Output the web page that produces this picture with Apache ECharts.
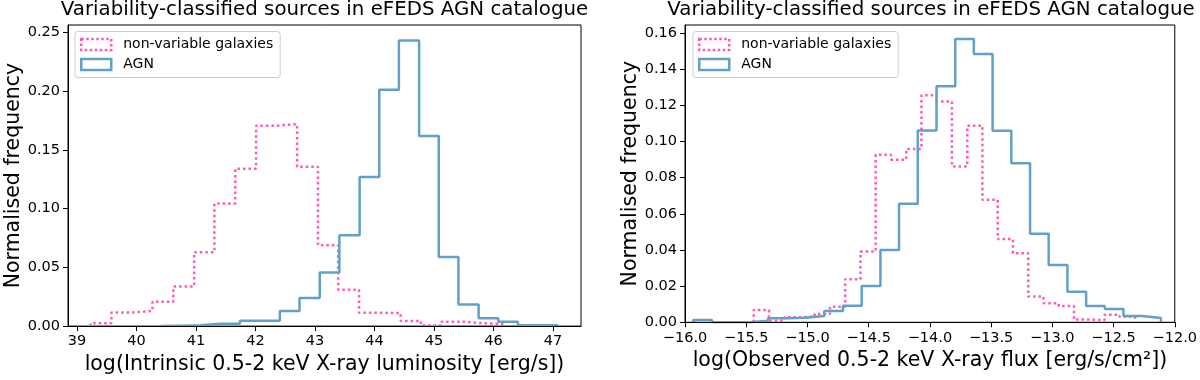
<!DOCTYPE html>
<html lang="en">
<head>
<meta charset="UTF-8" />
<title>Variability-classified sources in eFEDS AGN catalogue</title>
<script src="https://cdn.jsdelivr.net/npm/echarts@6.0.0/dist/echarts.min.js"></script>
<style>
  body { margin: 0; background: #fff; }
  #container { width: 1200px; height: 380px; }
</style>
</head>
<body>
<div id="container"></div>
<script>
// left panel: log intrinsic 0.5-2 keV luminosity, 20 bins per sample
const lumGalEdges = [39.23, 39.58, 39.92, 40.27, 40.62, 40.97, 41.31, 41.66, 42.01, 42.35, 42.70,
  43.05, 43.39, 43.74, 44.09, 44.44, 44.78, 45.13, 45.48, 45.82, 46.17];
const lumGalFreq = [0.0025, 0.0115, 0.013, 0.0208, 0.0338, 0.063, 0.1045, 0.134, 0.1707, 0.172,
  0.1357, 0.0689, 0.031, 0.0114, 0.011, 0.0044, 0.0005, 0.0038, 0.0025, 0.0017];
const lumAgnEdges = [40.41, 40.74, 41.08, 41.41, 41.74, 42.08, 42.41, 42.74, 43.08, 43.41, 43.75,
  44.08, 44.41, 44.75, 45.08, 45.41, 45.75, 46.08, 46.41, 46.75, 47.08];
const lumAgnFreq = [0.0004, 0.0008, 0.002, 0.002, 0.0046, 0.0046, 0.0128, 0.024, 0.0456, 0.0773,
  0.127, 0.2013, 0.2434, 0.162, 0.0588, 0.0184, 0.0066, 0.0038, 0.0008, 0.0008];

// right panel: log observed 0.5-2 keV flux, 25 bins per sample
const fluxGalEdges = [-15.439, -15.314, -15.190, -15.065, -14.941, -14.816, -14.692, -14.567, -14.443,
  -14.318, -14.193, -14.069, -13.944, -13.820, -13.695, -13.571, -13.446, -13.322, -13.197, -13.072,
  -12.948, -12.823, -12.699, -12.574, -12.450, -12.325];
const fluxGalFreq = [0.0068, 0.0009, 0.0028, 0.0031, 0.0046, 0.0086, 0.0238, 0.0391, 0.0926, 0.0899,
  0.0958, 0.1255, 0.1221, 0.0862, 0.1087, 0.0677, 0.046, 0.0382, 0.0142, 0.0105, 0.009, 0.0015,
  0.0012, 0.0042, 0.003];
const fluxAgnEdges = [-15.932, -15.779, -15.627, -15.474, -15.321, -15.168, -15.015, -14.863, -14.710,
  -14.557, -14.404, -14.252, -14.099, -13.946, -13.793, -13.641, -13.488, -13.335, -13.182, -13.030,
  -12.877, -12.724, -12.571, -12.419, -12.266, -12.113];
const fluxAgnFreq = [0.0013, 0, 0, 0.0009, 0.0022, 0.0025, 0.0035, 0.0063, 0.0092, 0.0201, 0.04,
  0.0655, 0.1061, 0.1305, 0.1567, 0.1484, 0.1059, 0.088, 0.0489, 0.0317, 0.0169, 0.009, 0.0074,
  0.0035, 0.0024];

const lumTicksX = [39, 40, 41, 42, 43, 44, 45, 46, 47];
const lumTicksY = [0, 0.05, 0.1, 0.15, 0.2, 0.25];
const fluxTicksX = [-16, -15.5, -15, -14.5, -14, -13.5, -13, -12.5, -12];
const fluxTicksY = [0, 0.02, 0.04, 0.06, 0.08, 0.1, 0.12, 0.14, 0.16];

const titleText = "Variability-classified sources in eFEDS AGN catalogue";
const galName = "non-variable galaxies";
const agnName = "AGN";

const pink = "#ff5ab3";
const blue = "#62a0ca";
const FONT = "DejaVu Sans";

// outline of a step histogram (matplotlib histtype='step')
function stepOutline(edges, freq) {
  const pts = [[edges[0], 0]];
  for (let i = 0; i < freq.length; i++) {
    pts.push([edges[i], freq[i]]);
    pts.push([edges[i + 1], freq[i]]);
  }
  pts.push([edges[edges.length - 1], 0]);
  return pts;
}

const minus = (s) => s.replace("-", "\u2212");

function xAxisOf(idx, min, max, ticks, fmt, name, gap) {
  return {
    type: "value", gridIndex: idx, min: min, max: max, z: 5,
    axisLine: { show: true, onZero: false, lineStyle: { color: "#000", width: 1 } },
    axisTick: { show: true, length: 5, lineStyle: { color: "#000" }, customValues: ticks },
    axisLabel: { color: "#000", fontFamily: FONT, fontSize: 14.5, margin: 8,
      customValues: ticks, formatter: fmt },
    splitLine: { show: false },
    name: name, nameLocation: "middle", nameGap: gap,
    nameTextStyle: { color: "#000", fontFamily: FONT, fontSize: 20.5 }
  };
}

function yAxisOf(idx, max, ticks) {
  return {
    type: "value", gridIndex: idx, min: 0, max: max, z: 5,
    axisLine: { show: true, lineStyle: { color: "#000", width: 1 } },
    axisTick: { show: true, length: 5, lineStyle: { color: "#000" }, customValues: ticks },
    axisLabel: { color: "#000", fontFamily: FONT, fontSize: 14.5, margin: 8,
      customValues: ticks, formatter: (v) => v.toFixed(2) },
    splitLine: { show: false },
    name: "Normalised frequency", nameLocation: "middle", nameGap: 44, nameRotate: 90,
    nameTextStyle: { color: "#000", fontFamily: FONT, fontSize: 20.5 }
  };
}

function legendOf(left, gridIdx) {
  return {
    orient: "vertical", left: left, top: 31.5,
    padding: [6, 7, 6, 5], itemGap: 6, itemWidth: 30, itemHeight: 11,
    backgroundColor: "rgba(255,255,255,0.8)", borderColor: "#cccccc", borderWidth: 1, borderRadius: 3,
    textStyle: { color: "#000", fontFamily: FONT, fontSize: 14, padding: [0, 0, 0, 7] },
    data: [
      { name: galName + gridIdx, icon: "rect",
        itemStyle: { color: "#fff", borderColor: pink, borderWidth: 2.5, borderType: [2.5, 2.5] } },
      { name: agnName + gridIdx, icon: "rect",
        itemStyle: { color: "#fff", borderColor: blue, borderWidth: 2.5 } }
    ],
    formatter: (n) => n.slice(0, -1)
  };
}

function histSeries(name, idx, edges, freq, color, dotted) {
  return {
    name: name, type: "line", xAxisIndex: idx, yAxisIndex: idx,
    showSymbol: false, symbol: "none", z: 2,
    lineStyle: { color: color, width: 2.5, type: dotted ? [2.5, 3] : "solid", cap: "butt" },
    itemStyle: { color: color },
    data: stepOutline(edges, freq)
  };
}

const chart = echarts.init(document.getElementById("container"), null, { renderer: "canvas" });

chart.setOption({
  animation: false,
  backgroundColor: "#fff",
  graphic: [
    { type: "text", x: 324.5, y: 0,
      style: { text: titleText, fill: "#000", font: "19.8px '" + FONT + "'", align: "center", verticalAlign: "top" } },
    { type: "text", x: 931, y: 0,
      style: { text: titleText, fill: "#000", font: "19.8px '" + FONT + "'", align: "center", verticalAlign: "top" } }
  ],
  grid: [
    { left: 68, top: 25, width: 513, height: 304, show: true, borderColor: "#000", borderWidth: 1, backgroundColor: "transparent" },
    { left: 685, top: 25, width: 492, height: 297.3, show: true, borderColor: "#000", borderWidth: 1, backgroundColor: "transparent" }
  ],
  legend: [legendOf(75, 0), legendOf(693, 1)],
  xAxis: [
    xAxisOf(0, 38.85, 47.47, lumTicksX, (v) => String(v),
      "log(Intrinsic 0.5-2 keV X-ray luminosity [erg/s])", 26),
    xAxisOf(1, -16, -12, fluxTicksX, (v) => minus(v.toFixed(1)),
      "log(Observed 0.5-2 keV X-ray flux [erg/s/cm\u00b2])", 28)
  ],
  yAxis: [yAxisOf(0, 0.2565, lumTicksY), yAxisOf(1, 0.1644, fluxTicksY)],
  series: [
    histSeries(galName + 0, 0, lumGalEdges, lumGalFreq, pink, true),
    histSeries(agnName + 0, 0, lumAgnEdges, lumAgnFreq, blue, false),
    histSeries(galName + 1, 1, fluxGalEdges, fluxGalFreq, pink, true),
    histSeries(agnName + 1, 1, fluxAgnEdges, fluxAgnFreq, blue, false)
  ]
});

window.addEventListener("resize", chart.resize);
</script>
</body>
</html>
